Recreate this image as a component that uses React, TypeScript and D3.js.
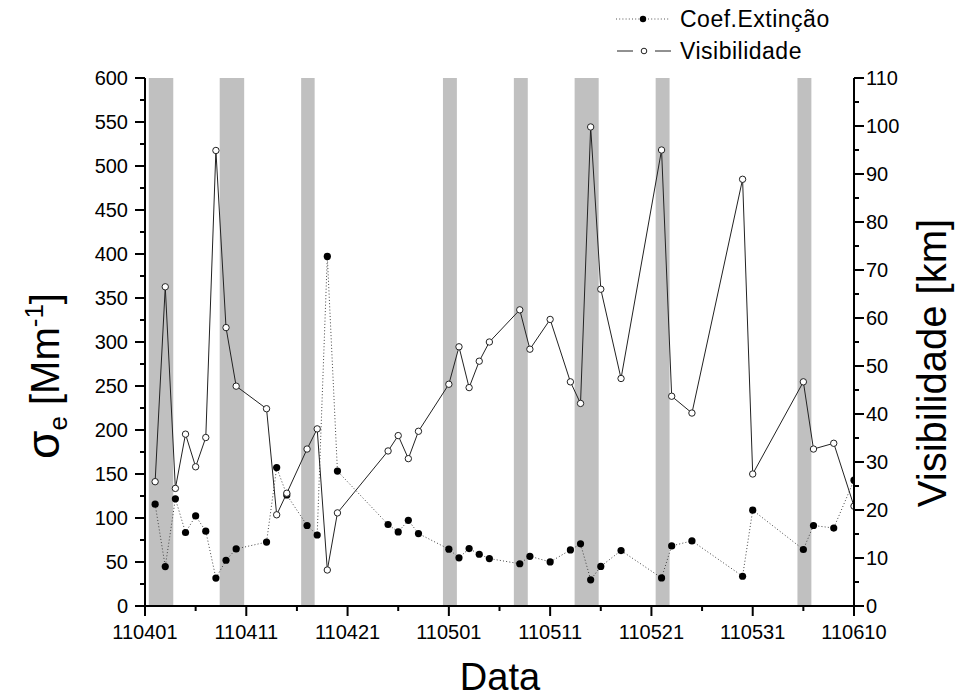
import React from "react";
import * as d3 from "d3";

// datas das medições (aammdd)
const datas = [
  "110402", "110403", "110404", "110405", "110406", "110407", "110408", "110409", "110410",
  "110413", "110414", "110415", "110417", "110418", "110419", "110420",
  "110425", "110426", "110427", "110428",
  "110501", "110502", "110503", "110504", "110505", "110508", "110509", "110511",
  "110513", "110514", "110515", "110516", "110518", "110522", "110523", "110525",
  "110530", "110531", "110605", "110606", "110608", "110610",
];

// coeficiente de extinção [Mm-1]
const extincao = [
  115.7, 44.8, 121.8, 83.5, 102.4, 85, 31.7, 52, 64.9,
  72.6, 157.3, 126.2, 91.5, 80.7, 397.2, 153.3,
  92.6, 84.2, 97.4, 82.3,
  64.6, 54.8, 65.3, 58.8, 53.9, 48.0, 56.5, 50.1,
  63.7, 70.6, 29.8, 45.0, 63, 31.9, 68.3, 74,
  33.8, 108.9, 64.2, 91.5, 88.6, 143,
];

// visibilidade [km]
const visibilidade = [
  25.9, 66.5, 24.5, 35.8, 29.0, 35.1, 94.9, 58.0, 45.8,
  41.1, 19.0, 23.5, 32.7, 36.9, 7.5, 19.4,
  32.3, 35.5, 30.7, 36.4,
  46.2, 54.0, 45.5, 51.0, 55.0, 61.7, 53.5, 59.7,
  46.7, 42.2, 99.8, 66.0, 47.4, 95.0, 43.7, 40.2,
  88.9, 27.5, 46.7, 32.7, 33.9, 20.8,
];

// períodos sombreados (início, fim) aammdd HH
const periodos = [
  ["110401 09", "110403 19"],
  ["110408 09", "110410 19"],
  ["110416 10", "110417 18"],
  ["110430 10", "110501 19"],
  ["110507 10", "110508 19"],
  ["110513 10", "110515 19"],
  ["110521 10", "110522 19"],
  ["110604 10", "110605 19"],
];

const xTickLabels = ["110401", "110411", "110421", "110501", "110511", "110521", "110531", "110610"];
const leftTicks = [0, 50, 100, 150, 200, 250, 300, 350, 400, 450, 500, 550, 600];
const rightTicks = [0, 10, 20, 30, 40, 50, 60, 70, 80, 90, 100, 110];

const parseDay = d3.timeParse("%y%m%d");
const parseHour = d3.timeParse("%y%m%d %H");

const FONT = "'Liberation Sans', Arial, sans-serif";

export default function App() {
  const width = 958;
  const height = 698;
  const m = { left: 145, right: 854, top: 78, bottom: 606 };

  const x = d3
    .scaleTime()
    .domain([parseDay(xTickLabels[0]), parseDay(xTickLabels[xTickLabels.length - 1])])
    .range([m.left, m.right]);
  const yL = d3.scaleLinear().domain([0, 600]).range([m.bottom, m.top]);
  const yR = d3.scaleLinear().domain([0, 110]).range([m.bottom, m.top]);

  const pts = datas.map((d, i) => ({
    t: parseDay(d),
    ext: extincao[i],
    vis: visibilidade[i],
  }));

  const lineExt = d3
    .line<any>()
    .x((d) => x(d.t))
    .y((d) => yL(d.ext));
  const lineVis = d3
    .line<any>()
    .x((d) => x(d.t))
    .y((d) => yR(d.vis));

  // minor ticks halfway between the labelled dates
  const xMajor = xTickLabels.map((s) => parseDay(s));
  const xMinor = xMajor.slice(0, -1).map((t) => d3.timeDay.offset(t, 5));
  const leftMinor = leftTicks.slice(0, -1).map((v) => v + 25);
  const rightMinor = rightTicks.slice(0, -1).map((v) => v + 5);

  return (
    <div style={{ position: "absolute", left: 0, top: 0 }}>
      <svg width={width} height={height} style={{ display: "block", fontFamily: FONT }}>
        <defs>
          <clipPath id="plot-clip">
            <rect x={m.left} y={0} width={m.right - m.left} height={m.bottom} />
          </clipPath>
        </defs>
        <rect width={width} height={height} fill="#fff" />

        {/* shaded periods */}
        {periodos.map(([a, b], i) => (
          <rect
            key={i}
            x={x(parseHour(a))}
            y={m.top}
            width={x(parseHour(b)) - x(parseHour(a))}
            height={m.bottom - m.top}
            fill="#c0c0c0"
          />
        ))}

        <g clipPath="url(#plot-clip)">
          {/* Coef. extinção */}
          <path
            d={lineExt(pts)}
            fill="none"
            stroke="#444"
            strokeWidth={1}
            strokeDasharray="1 2.2"
          />
          {pts.map((p, i) => (
            <circle key={i} cx={x(p.t)} cy={yL(p.ext)} r={3.6} fill="#000" />
          ))}

          {/* Visibilidade */}
          <path d={lineVis(pts)} fill="none" stroke="#222" strokeWidth={1} />
          {pts.map((p, i) => (
            <circle
              key={i}
              cx={x(p.t)}
              cy={yR(p.vis)}
              r={3.2}
              fill="#fff"
              stroke="#222"
              strokeWidth={1}
            />
          ))}
        </g>

        {/* axes */}
        <g stroke="#000" strokeWidth={2}>
          <line x1={m.left} x2={m.left} y1={m.top} y2={m.bottom + 1} />
          <line x1={m.right} x2={m.right} y1={m.top} y2={m.bottom + 1} />
          <line x1={m.left - 1} x2={m.right + 1} y1={m.bottom} y2={m.bottom} />
          {leftTicks.map((v) => (
            <line key={"lt" + v} x1={m.left - 10} x2={m.left} y1={yL(v)} y2={yL(v)} />
          ))}
          {leftMinor.map((v) => (
            <line key={"lm" + v} x1={m.left - 5} x2={m.left} y1={yL(v)} y2={yL(v)} />
          ))}
          {rightTicks.map((v) => (
            <line key={"rt" + v} x1={m.right} x2={m.right + 10} y1={yR(v)} y2={yR(v)} />
          ))}
          {rightMinor.map((v) => (
            <line key={"rm" + v} x1={m.right} x2={m.right + 5} y1={yR(v)} y2={yR(v)} />
          ))}
          {xMajor.map((t, i) => (
            <line key={"xt" + i} x1={x(t)} x2={x(t)} y1={m.bottom} y2={m.bottom + 10} />
          ))}
          {xMinor.map((t, i) => (
            <line key={"xm" + i} x1={x(t)} x2={x(t)} y1={m.bottom} y2={m.bottom + 5} />
          ))}
        </g>

        <g fontSize={20} fill="#000">
          {leftTicks.map((v) => (
            <text key={"ll" + v} x={m.left - 17} y={yL(v) + 7} textAnchor="end">
              {v}
            </text>
          ))}
          {rightTicks.map((v) => (
            <text key={"rl" + v} x={m.right + 12} y={yR(v) + 7} textAnchor="start">
              {v}
            </text>
          ))}
          {xTickLabels.map((s, i) => (
            <text key={"xl" + i} x={x(xMajor[i])} y={639} textAnchor="middle">
              {s}
            </text>
          ))}
        </g>

        {/* axis titles */}
        <text x={500} y={690} textAnchor="middle" fontSize={38}>
          Data
        </text>
        <text
          transform={`translate(59 ${376}) rotate(-90)`}
          textAnchor="middle"
          fontSize={40}
        >
          <tspan fontSize={46}>σ</tspan>
          <tspan fontSize={26} dy={8}>e</tspan>
          <tspan dy={-8}> [Mm</tspan>
          <tspan fontSize={26} dy={-16}>-1</tspan>
          <tspan dy={16}>]</tspan>
        </text>
        <text
          transform={`translate(946 ${363}) rotate(-90)`}
          textAnchor="middle"
          fontSize={40}
        >
          Visibilidade [km]
        </text>

        {/* legend */}
        <g>
          <line x1={616} x2={670} y1={19} y2={19} stroke="#555" strokeWidth={1} strokeDasharray="1 2.2" />
          <circle cx={643} cy={19} r={3.2} fill="#000" />
          <text x={680} y={27} fontSize={23} letterSpacing={0.5}>
            Coef.Extinção
          </text>
          <line x1={617} x2={633} y1={51} y2={51} stroke="#222" strokeWidth={1} />
          <line x1={655} x2={671} y1={51} y2={51} stroke="#222" strokeWidth={1} />
          <circle cx={644} cy={51} r={2.8} fill="#fff" stroke="#222" strokeWidth={1} />
          <text x={680} y={59} fontSize={23} letterSpacing={0.5}>
            Visibilidade
          </text>
        </g>
      </svg>
    </div>
  );
}
